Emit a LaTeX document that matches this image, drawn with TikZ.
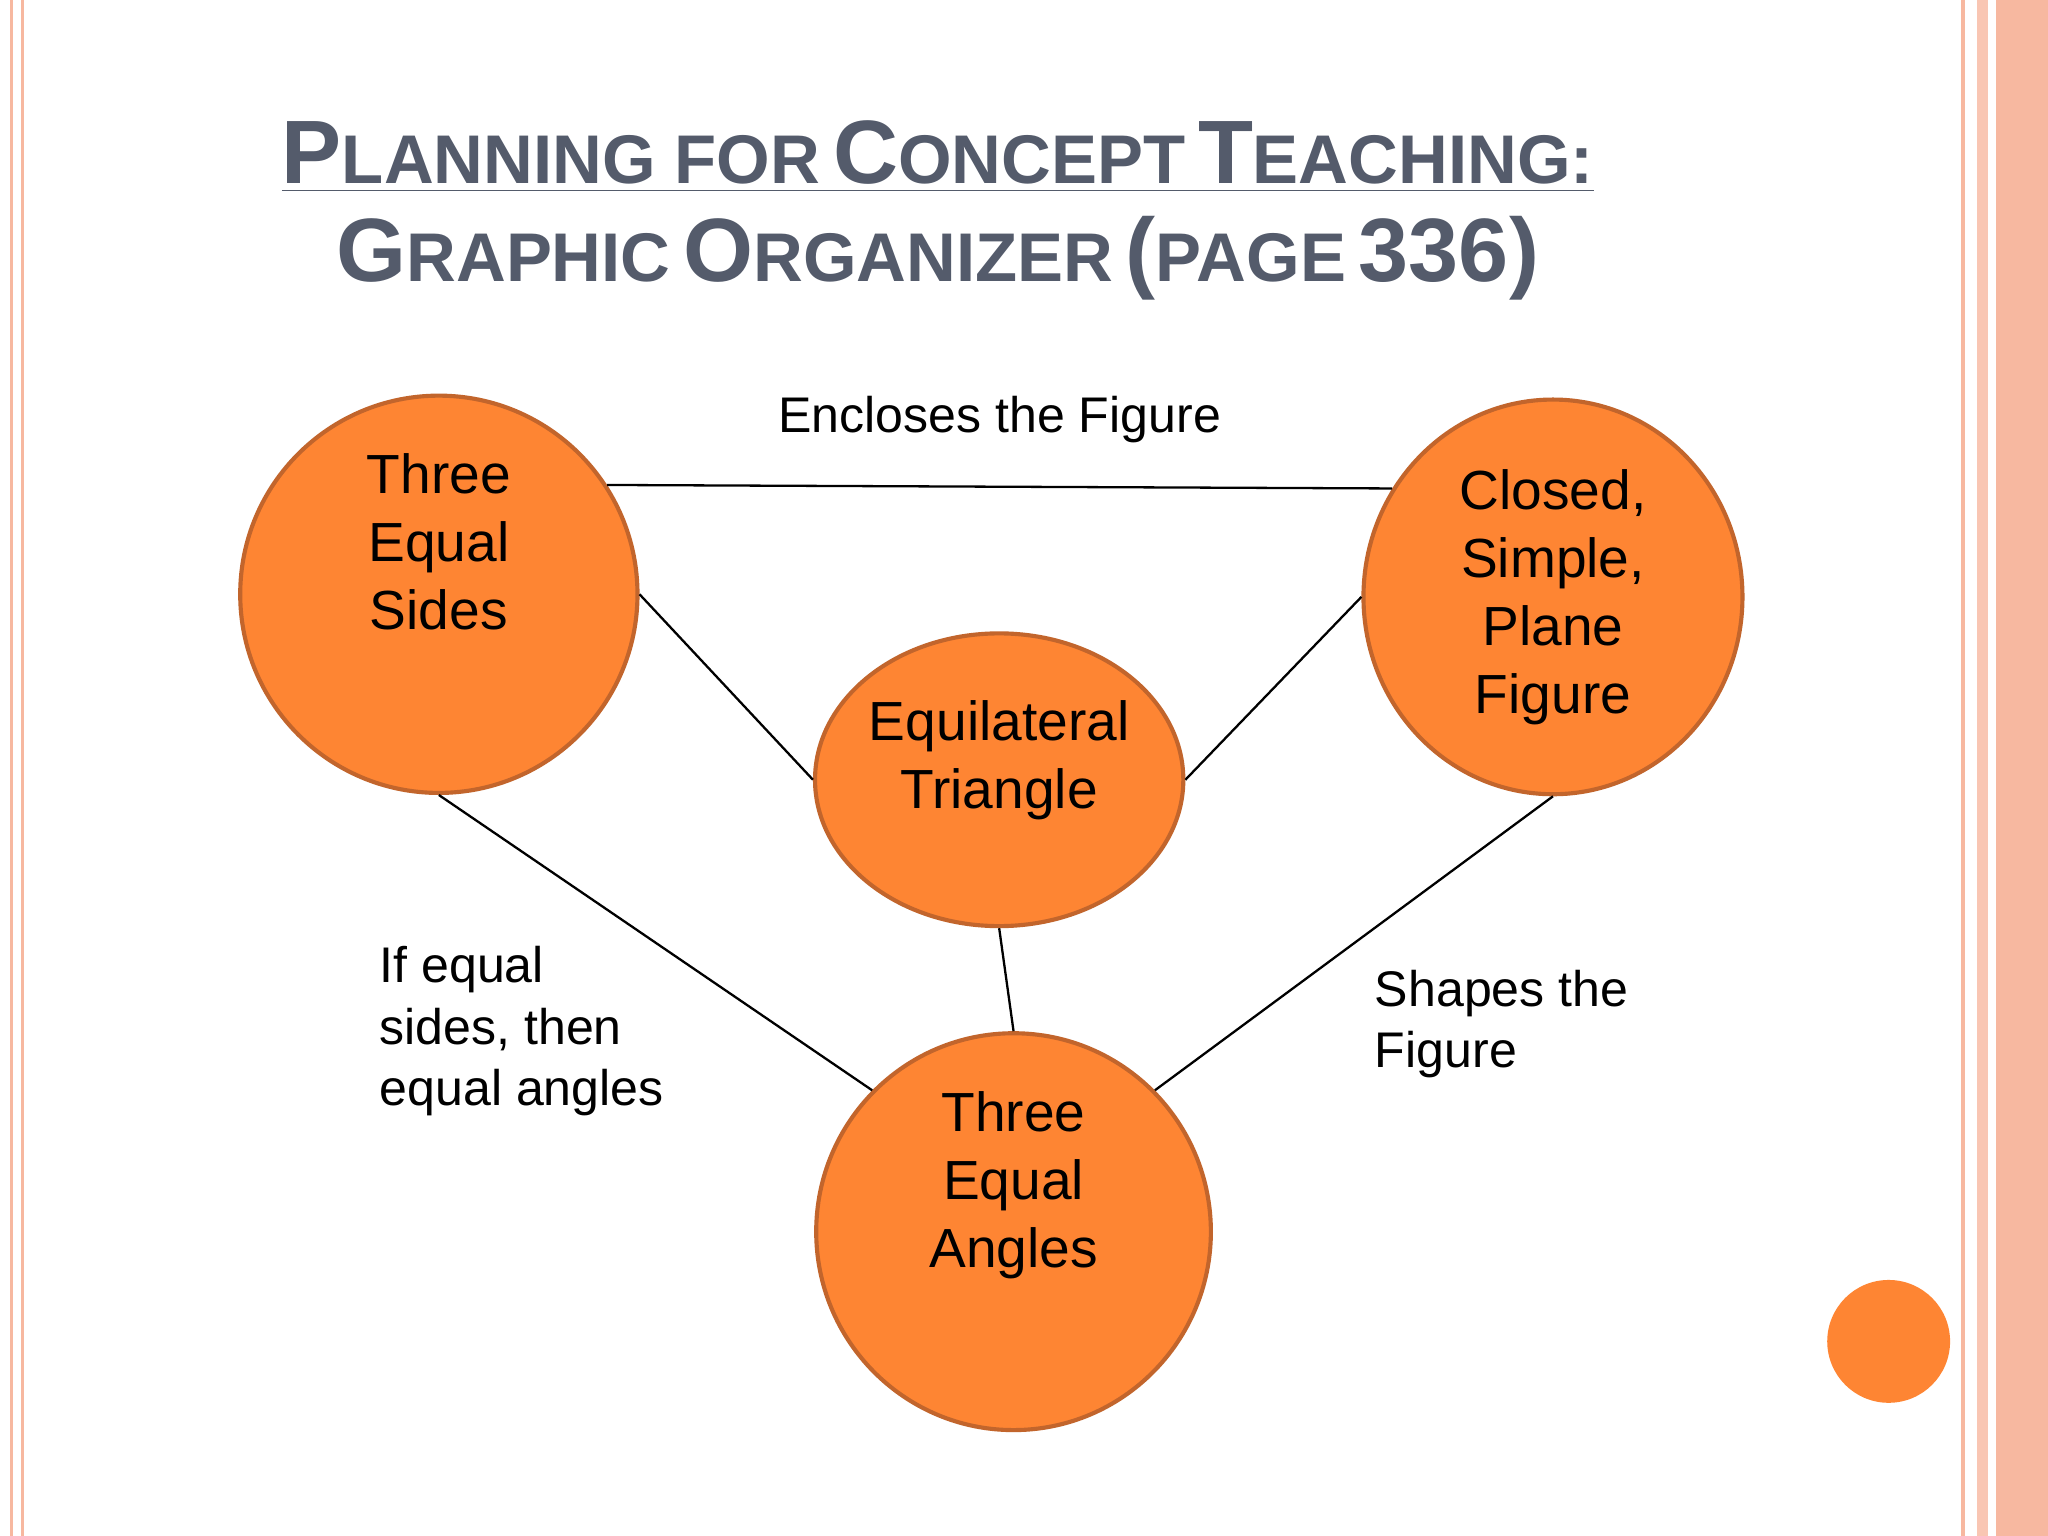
\documentclass[tikz,border=0pt]{standalone}
\usepackage{fontspec}
\setmainfont{Liberation Sans}
\usetikzlibrary{shapes.geometric}
\definecolor{org}{HTML}{FE8533}
\definecolor{orgb}{HTML}{C2652C}
\definecolor{ttl}{HTML}{545B6B}
\definecolor{pk}{HTML}{F7B8A0}
\newcommand{\Sc}[2]{{\fontsize{19.6pt}{19.6pt}\selectfont #1}{\fontsize{15pt}{15pt}\selectfont #2}}
\tikzset{
 bub/.style={ellipse,draw=orgb,line width=0.9pt,fill=org,inner sep=0pt,align=center,font=\fontsize{12pt}{14.8pt}\selectfont},
 lbl/.style={align=left,anchor=north west,inner sep=0pt,font=\fontsize{10.9pt}{13.4pt}\selectfont},
 con/.style={draw=black,line width=0.5pt}
}
\begin{document}
\begin{tikzpicture}[x=0.01cm,y=-0.01cm]
\useasboundingbox (0,0) rectangle (1568,1176);
\fill[white] (0,0) rectangle (1568,1176);
% borders
\draw[pk,line width=0.6pt] (9,0) -- (9,1176);
\draw[pk,line width=0.6pt] (17,0) -- (17,1176);
\draw[pk,line width=0.8pt] (1503,0) -- (1503,1176);
\fill[pk!80] (1514,0) rectangle (1522,1176);
\fill[pk] (1528,0) rectangle (1568,1176);
% title
\node[text=ttl,font=\bfseries,inner sep=0pt] (t1) at (718,120) {\underline{\Sc{P}{LANNING FOR} \Sc{C}{ONCEPT} \Sc{T}{EACHING:}}};
\node[text=ttl,font=\bfseries,inner sep=0pt] (t2) at (718,198) {\Sc{G}{RAPHIC} \Sc{O}{RGANIZER} \Sc{(}{PAGE} \Sc{336)}{}};
% bubbles
\node[bub,minimum width=3.04cm,minimum height=3.04cm] (L) at (336,455) {Three\\Equal\\Sides\\[8pt]};
\node[bub,minimum width=2.9cm,minimum height=3.02cm] (R) at (1189,457) {Closed,\\Simple,\\Plane\\Figure};
\node[bub,minimum width=2.76cm,minimum height=2.24cm] (C) at (765,597) {Equilateral\\Triangle\\[-4pt]};
\node[bub,minimum width=3.02cm,minimum height=3.02cm] (B) at (776,943) {Three\\Equal\\Angles\\[8pt]};
\node[circle,fill=org,minimum size=0.94cm,inner sep=0pt] (D) at (1446,1027) {};
% connectors
\draw[con] (L.33) -- node[above=6pt,font=\fontsize{10.9pt}{13pt}\selectfont] (enc) {Encloses the Figure} (R.146);
\draw[con] (L.east) -- (C.west);
\draw[con] (C.east) -- (R.west);
\draw[con] (C.south) -- (B.north);
\draw[con] (L.south) -- (B.135);
\draw[con] (R.south) -- (B.45);
\node[lbl] (l1) at (290,724) {If equal\\sides, then\\equal angles};
\node[lbl] (l2) at (1052,742) {Shapes the\\Figure};
\end{tikzpicture}
\end{document}
